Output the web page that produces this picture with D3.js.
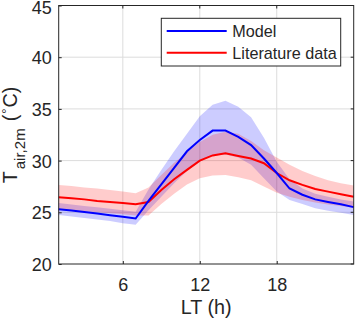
<!DOCTYPE html>
<html>
<head>
<meta charset="utf-8">
<script src="https://cdn.jsdelivr.net/npm/d3@7"></script>
<style>
  body { margin: 0; background: #fff; }
  svg text { font-family: "Liberation Sans", Arial, sans-serif; fill: #262626; }
</style>
</head>
<body>
<script>
const hours = [1, 2, 3, 4, 5, 6, 7, 8, 9, 10, 11, 12, 13, 14, 15, 16, 17, 18, 19, 20, 21, 22, 23, 24];

const modelMean  = [25.3, 25.17, 25.02, 24.88, 24.72, 24.56, 24.4, 26.1, 27.7, 29.3, 30.9, 32.0, 32.9, 32.9, 32.3, 31.5, 30.2, 28.8, 27.3, 26.7, 26.25, 26.0, 25.77, 25.5];
const modelUpper = [25.9, 25.75, 25.6, 25.5, 25.35, 25.2, 25.05, 27.2, 29.1, 30.9, 32.6, 34.3, 35.4, 35.8, 35.2, 34.2, 32.2, 29.9, 28.2, 27.3, 26.8, 26.5, 26.25, 26.05];
const modelLower = [24.75, 24.6, 24.45, 24.3, 24.15, 23.95, 23.8, 25.2, 26.5, 27.8, 29.0, 29.9, 30.5, 30.6, 30.3, 29.6, 28.3, 27.0, 26.2, 25.8, 25.4, 25.15, 24.95, 24.75];

const litMean  = [26.45, 26.35, 26.25, 26.1, 26.0, 25.9, 25.77, 26.0, 27.15, 28.2, 29.1, 30.0, 30.5, 30.7, 30.45, 30.2, 29.75, 28.8, 28.1, 27.65, 27.25, 27.0, 26.75, 26.5];
const litUpper = [27.65, 27.55, 27.4, 27.3, 27.15, 27.0, 26.85, 27.4, 28.6, 29.8, 30.8, 31.8, 32.5, 32.8, 32.6, 31.9, 31.0, 30.3, 29.6, 29.0, 28.5, 28.1, 27.8, 27.6];
const litLower = [25.3, 25.2, 25.1, 25.0, 24.9, 24.8, 24.7, 24.7, 25.8, 26.8, 27.7, 28.3, 28.55, 28.6, 28.4, 28.1, 27.5, 26.9, 26.5, 26.2, 25.95, 25.75, 25.6, 25.45];

const xTicks = [6, 12, 18];
const yTicks = [20, 25, 30, 35, 40, 45];
const seriesNames = ["Model", "Literature data"];

const w = 355, h = 320;
const padLeft = 58.7, padRight = 353.7, padTop = 5.5, padBottom = 264;

const xScale = d3.scaleLinear().domain([1, 24]).range([padLeft, padRight]);
const yScale = d3.scaleLinear().domain([20, 45]).range([padBottom, padTop]);

const svg = d3.select("body").append("svg")
              .attr("width", w)
              .attr("height", h);

// grid
svg.append("g")
   .selectAll("line")
   .data(xTicks)
   .enter().append("line")
   .attr("x1", d => xScale(d)).attr("x2", d => xScale(d))
   .attr("y1", padTop).attr("y2", padBottom)
   .attr("stroke", "#dcdcdc").attr("stroke-width", 1);
svg.append("g")
   .selectAll("line")
   .data(yTicks.slice(1, -1))
   .enter().append("line")
   .attr("y1", d => yScale(d)).attr("y2", d => yScale(d))
   .attr("x1", padLeft).attr("x2", padRight)
   .attr("stroke", "#dcdcdc").attr("stroke-width", 1);

const band = (upper, lower) => d3.area()
  .x((d, i) => xScale(hours[i]))
  .y0((d, i) => yScale(lower[i]))
  .y1((d, i) => yScale(upper[i]));

const line = (vals) => d3.line()
  .x((d, i) => xScale(hours[i]))
  .y((d, i) => yScale(vals[i]));

svg.append("path")
   .attr("d", band(modelUpper, modelLower)(hours))
   .attr("fill", "#0000ff").attr("fill-opacity", 0.2);
svg.append("path")
   .attr("d", band(litUpper, litLower)(hours))
   .attr("fill", "#ff0000").attr("fill-opacity", 0.2);

svg.append("path")
   .attr("d", line(litMean)(hours))
   .attr("fill", "none").attr("stroke", "#ff0000").attr("stroke-width", 2);
svg.append("path")
   .attr("d", line(modelMean)(hours))
   .attr("fill", "none").attr("stroke", "#0000ff").attr("stroke-width", 2);

// axes
const xAxis = d3.axisBottom(xScale).tickValues(xTicks).tickSize(-3).tickPadding(14);
const gx = svg.append("g")
   .attr("transform", "translate(0," + padBottom + ")")
   .call(xAxis);
gx.select(".domain").remove();
gx.selectAll("text").style("font-size", "18px").attr("fill", "#262626");
gx.selectAll("line").attr("stroke", "#262626");

const yAxis = d3.axisLeft(yScale).tickValues(yTicks).tickSize(-3).tickPadding(7);
const gy = svg.append("g")
   .attr("transform", "translate(" + padLeft + ",0)")
   .call(yAxis);
gy.select(".domain").remove();
gy.selectAll("text")
  .style("font-size", "18px")
  .attr("fill", "#262626")
  .attr("dy", d => d === 45 ? "0.42em" : "0.36em");
gy.selectAll("line").attr("stroke", "#262626");

// mirrored ticks on top and right
svg.append("g").selectAll("line")
   .data(xTicks).enter().append("line")
   .attr("x1", d => xScale(d)).attr("x2", d => xScale(d))
   .attr("y1", padTop).attr("y2", padTop + 3)
   .attr("stroke", "#262626");
svg.append("g").selectAll("line")
   .data(yTicks).enter().append("line")
   .attr("y1", d => yScale(d)).attr("y2", d => yScale(d))
   .attr("x1", padRight).attr("x2", padRight - 3)
   .attr("stroke", "#262626");

svg.append("rect")
   .attr("x", padLeft).attr("y", padTop)
   .attr("width", padRight - padLeft).attr("height", padBottom - padTop)
   .attr("fill", "none").attr("stroke", "#262626").attr("stroke-width", 1);

// labels
svg.append("text")
   .attr("x", (padLeft + padRight) / 2).attr("y", 314)
   .attr("text-anchor", "middle")
   .style("font-size", "19.8px")
   .text("LT (h)");

const yl = svg.append("text")
   .attr("transform", "translate(16.5,135) rotate(-90)")
   .attr("text-anchor", "middle")
   .style("font-size", "19.8px");
yl.append("tspan").text("T");
yl.append("tspan").attr("dx", 2).attr("dy", 8).style("font-size", "15px").text("air,2m");
yl.append("tspan").attr("dx", 7).attr("dy", -8).text("(");
yl.append("tspan").attr("dx", 1).attr("dy", -6).style("font-size", "13px").text("°");
yl.append("tspan").attr("dx", 1).attr("dy", 6).text("C)");

// legend
const legend = svg.append("g");
legend.append("rect")
   .attr("x", 161.3).attr("y", 18.3)
   .attr("width", 179.4).attr("height", 47.7)
   .attr("fill", "#fff").attr("stroke", "#262626").attr("stroke-width", 1);
const legendColors = ["#0000ff", "#ff0000"];
seriesNames.forEach((name, i) => {
  const ly = 31 + i * 21.7;
  legend.append("line")
        .attr("x1", 166.7).attr("x2", 226.7)
        .attr("y1", ly).attr("y2", ly)
        .attr("stroke", legendColors[i]).attr("stroke-width", 2);
  legend.append("text")
        .attr("x", 232.3).attr("y", ly + 5.8)
        .style("font-size", "16.2px")
        .text(name);
});
</script>
</body>
</html>
